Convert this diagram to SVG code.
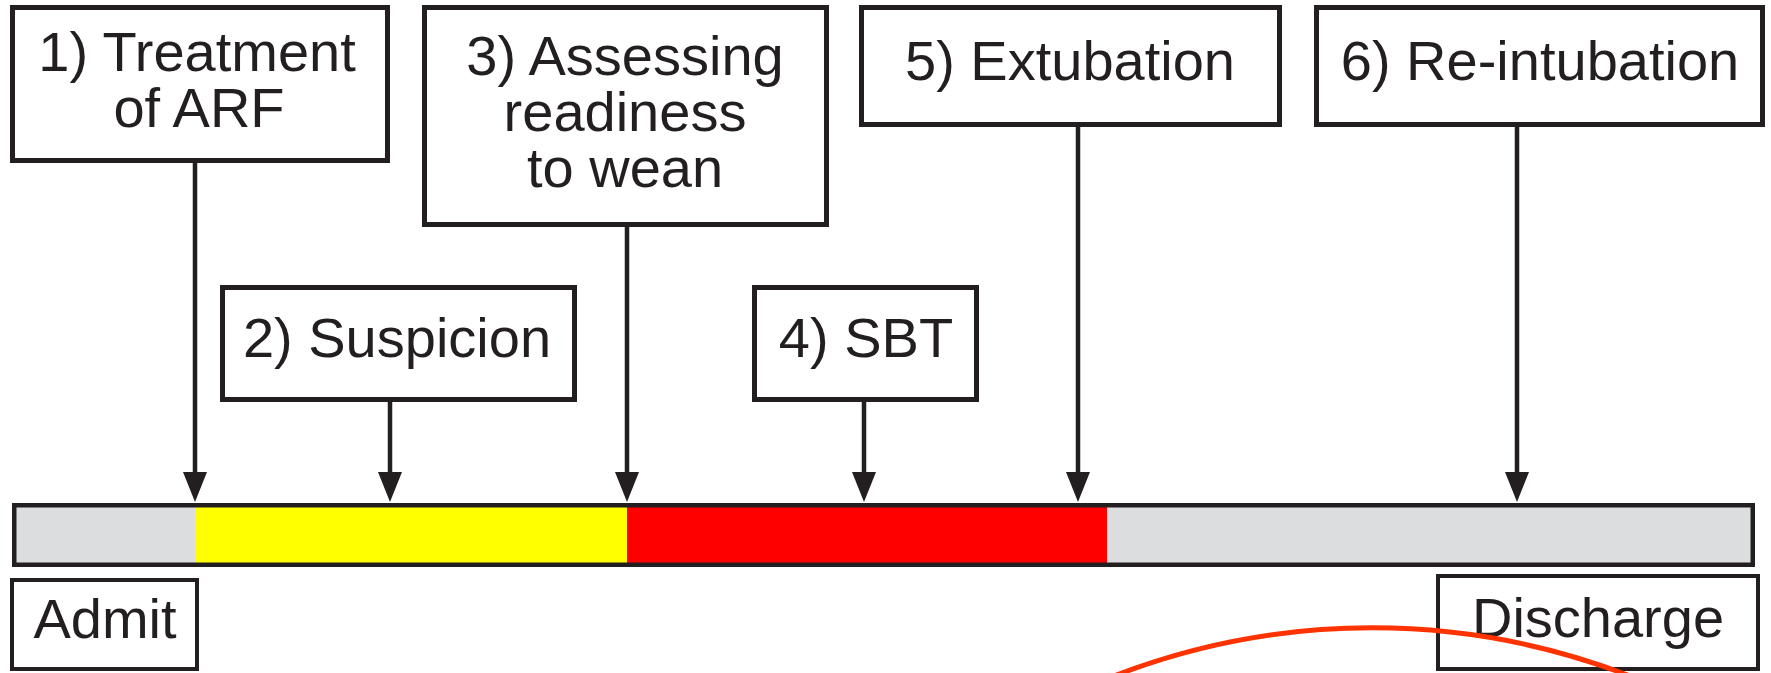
<svg xmlns="http://www.w3.org/2000/svg" width="1771" height="673" viewBox="0 0 1771 673">
<style>
.box{fill:#fff;stroke:#231f20;stroke-width:5}
.sbox{fill:#fff;stroke:#231f20;stroke-width:4}
.lbl{font-family:"Liberation Sans",Arial,sans-serif;font-size:56px;fill:#231f20;text-anchor:middle}
.con{stroke:#231f20;stroke-width:4.5;fill:none}
.head{fill:#231f20}
</style>
<rect width="1771" height="673" fill="#fff"/>
<g id="timeline">
<rect x="14" y="505" width="181" height="60" fill="#dcdddf"/>
<rect x="195" y="505" width="432" height="60" fill="#ffff00"/>
<rect x="627" y="505" width="480" height="60" fill="#ff0000"/>
<rect x="1107" y="505" width="646" height="60" fill="#dcdddf"/>
<rect x="14.25" y="505.25" width="1738.5" height="59.5" fill="none" stroke="#231f20" stroke-width="4.5"/>
</g>
<g id="n1"><rect class="box" x="12.5" y="7.5" width="375" height="153"/><text class="lbl"><tspan x="197" y="71">1) Treatment</tspan><tspan x="199" y="127">of ARF</tspan></text></g>
<g id="n2"><rect class="box" x="222.5" y="287.5" width="352" height="112"/><text class="lbl" x="397" y="357">2) Suspicion</text></g>
<g id="n3"><rect class="box" x="424.5" y="7.5" width="402" height="217"/><text class="lbl"><tspan x="625" y="75">3) Assessing</tspan><tspan x="625" y="131">readiness</tspan><tspan x="625" y="187">to wean</tspan></text></g>
<g id="n4"><rect class="box" x="754.5" y="287.5" width="222" height="112"/><text class="lbl" x="866" y="357">4) SBT</text></g>
<g id="n5"><rect class="box" x="861.5" y="7.5" width="418" height="117"/><text class="lbl" x="1070" y="80">5) Extubation</text></g>
<g id="n6"><rect class="box" x="1316.5" y="7.5" width="446" height="117"/><text class="lbl" x="1540" y="80">6) Re-intubation</text></g>
<g id="admit"><rect class="sbox" x="12" y="580" width="185" height="89"/><text class="lbl" x="105" y="638">Admit</text></g>
<g id="discharge"><rect class="sbox" x="1438" y="576" width="320" height="93"/><text class="lbl" x="1598" y="637">Discharge</text></g>
<g id="connectors">
<line class="con" x1="195" y1="163" x2="195" y2="480"/><polygon class="head" points="183,472 207,472 195,502"/>
<line class="con" x1="390" y1="402" x2="390" y2="480"/><polygon class="head" points="378,472 402,472 390,502"/>
<line class="con" x1="627" y1="227" x2="627" y2="480"/><polygon class="head" points="615,472 639,472 627,502"/>
<line class="con" x1="864" y1="402" x2="864" y2="480"/><polygon class="head" points="852,472 876,472 864,502"/>
<line class="con" x1="1078" y1="127" x2="1078" y2="480"/><polygon class="head" points="1066,472 1090,472 1078,502"/>
<line class="con" x1="1517" y1="127" x2="1517" y2="480"/><polygon class="head" points="1505,472 1529,472 1517,502"/>
</g>
<path d="M 1114 676 A 715 715 0 0 1 1630 676" fill="none" stroke="#ff3300" stroke-width="5"/>
</svg>
